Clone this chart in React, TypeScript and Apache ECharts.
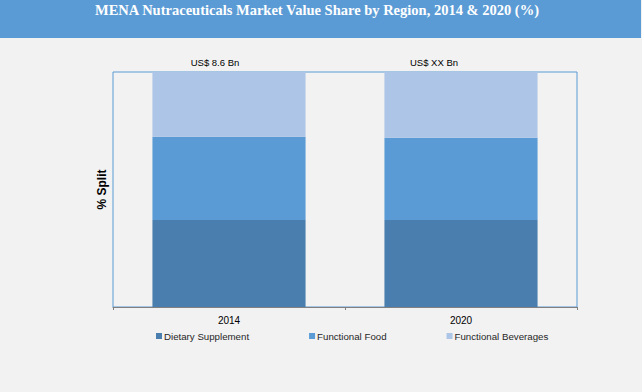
import React, { useEffect, useRef } from "react";
import * as echarts from "echarts";

const categories = ["2014", "2020"];
const seriesNames = ["Dietary Supplement", "Functional Food", "Functional Beverages"];
const dietary = [37, 37];
const functionalFood = [35.5, 35];
const functionalBeverages = [27.5, 28];
const totalLabels = ["US$ 8.6 Bn", "US$ XX Bn"];
const colors = ["#4a7eae", "#5b9bd5", "#adc5e6"];
const totalLabelShift = [-14, -27];

export default function App() {
  const ref = useRef<HTMLDivElement>(null);
  useEffect(() => {
    if (!ref.current) return;
    const chart = echarts.init(ref.current, undefined, { renderer: "svg" });
    const font = "Liberation Sans";
    const values = [dietary, functionalFood, functionalBeverages];
    chart.setOption({
      animation: false,
      backgroundColor: "#f2f2f2",
      graphic: [
        {
          type: "rect",
          left: 0,
          top: 0,
          shape: { x: 0, y: 0, width: 641, height: 38 },
          style: { fill: "#5b9bd5" },
          z: -1,
        },
      ],
      title: {
        text: "MENA Nutraceuticals Market Value Share by Region, 2014 & 2020 (%)",
        left: 312,
        textAlign: "center",
        top: -3,
        textStyle: {
          color: "#ffffff",
          fontFamily: "Liberation Serif",
          fontWeight: "bold",
          fontSize: 14.5,
        },
      },
      grid: {
        left: 113,
        right: 65,
        top: 72,
        bottom: 85,
        show: true,
        borderColor: "#5b9bd5",
        borderWidth: 1,
        backgroundColor: "transparent",
      },
      legend: {
        left: 156,
        top: 331,
        padding: 0,
        itemWidth: 6,
        itemHeight: 6,
        itemGap: 60,
        icon: "rect",
        textStyle: { fontFamily: font, fontSize: 9.7, color: "#262626", padding: [0, 0, 0, -3] },
        data: seriesNames,
      },
      xAxis: {
        type: "category",
        data: categories,
        axisLine: { lineStyle: { color: "#808080", width: 1 } },
        axisTick: { show: true, length: 3, lineStyle: { color: "#808080" } },
        axisLabel: { fontFamily: font, fontSize: 10, color: "#000000", margin: 8 },
      },
      yAxis: {
        type: "value",
        min: 0,
        max: 100,
        axisLabel: { show: false },
        axisLine: { show: false },
        axisTick: { show: false },
        splitLine: { show: false },
        name: "% Split",
        nameLocation: "middle",
        nameGap: 5,
        nameTextStyle: { fontFamily: font, fontSize: 12, fontWeight: "bold", color: "#000000" },
      },
      series: seriesNames.map((name, i) => ({
        name,
        type: "bar",
        stack: "total",
        data: values[i].map((v, j) =>
          i === 2 ? { value: v, label: { offset: [totalLabelShift[j], 0] } } : v
        ),
        barCategoryGap: "34%",
        itemStyle: { color: colors[i] },
        label:
          i === 2
            ? {
                show: true,
                position: "top",
                distance: 5,
                formatter: (p: any) => totalLabels[p.dataIndex],
                fontFamily: font,
                fontSize: 9.5,
                color: "#000000",
              }
            : { show: false },
      })),
    });
    return () => chart.dispose();
  }, []);
  return (
    <div
      ref={ref}
      style={{ position: "fixed", left: 0, top: 0, width: 642, height: 392 }}
    />
  );
}
